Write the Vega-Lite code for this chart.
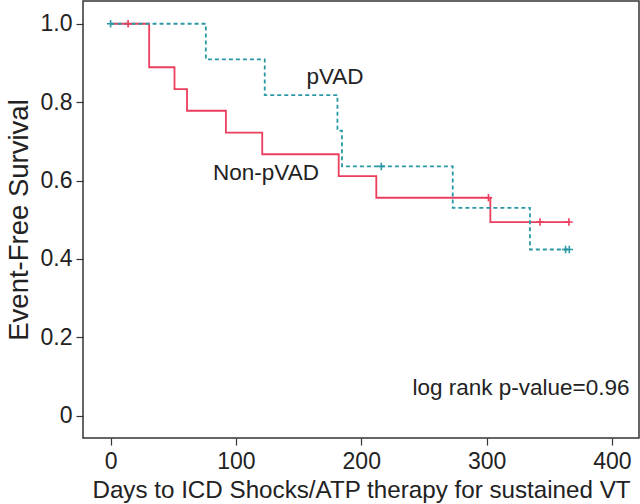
{
  "$schema": "https://vega.github.io/schema/vega-lite/v6.json",
  "width": 556,
  "height": 437,
  "autosize": "none",
  "padding": {"left": 83, "top": 1, "right": 1, "bottom": 66},
  "background": "white",
  "config": {
    "view": {"stroke": "#333333", "strokeWidth": 1.5},
    "font": "Liberation Sans",
    "axis": {
      "domain": false,
      "grid": false,
      "tickColor": "#333333",
      "tickWidth": 1.2,
      "tickSize": 7,
      "labelFont": "Liberation Sans",
      "labelFontSize": 23,
      "labelColor": "#222222",
      "titleFont": "Liberation Sans",
      "titleFontWeight": "normal",
      "titleColor": "#222222"
    }
  },
  "datasets": {
    "curves": [
      {"group": "Non-pVAD", "day": 0, "surv": 1.0},
      {"group": "Non-pVAD", "day": 30.8, "surv": 0.889},
      {"group": "Non-pVAD", "day": 51, "surv": 0.833},
      {"group": "Non-pVAD", "day": 61, "surv": 0.778},
      {"group": "Non-pVAD", "day": 92, "surv": 0.722},
      {"group": "Non-pVAD", "day": 121, "surv": 0.667},
      {"group": "Non-pVAD", "day": 182, "surv": 0.611},
      {"group": "Non-pVAD", "day": 212, "surv": 0.556},
      {"group": "Non-pVAD", "day": 303, "surv": 0.494},
      {"group": "Non-pVAD", "day": 366, "surv": 0.494},
      {"group": "pVAD", "day": 0, "surv": 1.0},
      {"group": "pVAD", "day": 76, "surv": 0.909},
      {"group": "pVAD", "day": 123, "surv": 0.818},
      {"group": "pVAD", "day": 181, "surv": 0.727},
      {"group": "pVAD", "day": 184.6, "surv": 0.636},
      {"group": "pVAD", "day": 273, "surv": 0.530},
      {"group": "pVAD", "day": 334.6, "surv": 0.424},
      {"group": "pVAD", "day": 366, "surv": 0.424}
    ],
    "censor": [
      {"group": "Non-pVAD", "day": 14, "surv": 1.0},
      {"group": "Non-pVAD", "day": 301.5, "surv": 0.556},
      {"group": "Non-pVAD", "day": 342.6, "surv": 0.494},
      {"group": "Non-pVAD", "day": 365.7, "surv": 0.494},
      {"group": "pVAD", "day": 0, "surv": 1.0},
      {"group": "pVAD", "day": 216, "surv": 0.636},
      {"group": "pVAD", "day": 363, "surv": 0.424},
      {"group": "pVAD", "day": 366, "surv": 0.424}
    ],
    "notes": [
      {"label": "pVAD", "day": 179, "surv": 0.864, "anchor": "center"},
      {"label": "Non-pVAD", "day": 124, "surv": 0.62, "anchor": "center"},
      {"label": "log rank p-value=0.96", "day": 414, "surv": 0.07, "anchor": "right"}
    ]
  },
  "layer": [
    {
      "data": {"name": "curves"},
      "mark": {"type": "line", "interpolate": "step-after", "strokeWidth": 1.8},
      "encoding": {
        "x": {
          "field": "day", "type": "quantitative",
          "scale": {"domain": [-22, 421.6], "nice": false, "zero": false},
          "axis": {"values": [0, 100, 200, 300, 400], "title": "Days to ICD Shocks/ATP therapy for sustained VT", "titleFontSize": 24.2, "labelPadding": 5, "titlePadding": 5}
        },
        "y": {
          "field": "surv", "type": "quantitative",
          "scale": {"domain": [-0.057, 1.058], "nice": false, "zero": false},
          "axis": {"values": [0, 0.2, 0.4, 0.6, 0.8, 1.0], "labelExpr": "datum.value === 0 ? '0' : format(datum.value, '.1f')", "title": "Event-Free Survival", "titleFontSize": 27.5, "labelPadding": 4, "titlePadding": 7}
        },
        "color": {
          "field": "group", "type": "nominal",
          "scale": {"domain": ["Non-pVAD", "pVAD"], "range": ["#eb3d5c", "#2a98a5"]},
          "legend": null
        },
        "strokeDash": {
          "field": "group", "type": "nominal",
          "scale": {"domain": ["Non-pVAD", "pVAD"], "range": [[1, 0], [4, 3]]},
          "legend": null
        }
      }
    },
    {
      "data": {"name": "censor"},
      "mark": {"type": "point", "shape": "M-1,0L1,0M0,-1L0,1", "filled": false, "size": 56, "strokeWidth": 1.6, "opacity": 1},
      "encoding": {
        "x": {"field": "day", "type": "quantitative"},
        "y": {"field": "surv", "type": "quantitative"},
        "color": {"field": "group", "type": "nominal", "legend": null}
      }
    },
    {
      "data": {"name": "notes"},
      "transform": [{"filter": "datum.anchor === 'center'"}],
      "mark": {"type": "text", "fontSize": 22.5, "color": "#222222", "align": "center", "baseline": "middle"},
      "encoding": {
        "x": {"field": "day", "type": "quantitative"},
        "y": {"field": "surv", "type": "quantitative"},
        "text": {"field": "label"}
      }
    },
    {
      "data": {"name": "notes"},
      "transform": [{"filter": "datum.anchor === 'right'"}],
      "mark": {"type": "text", "fontSize": 22.5, "color": "#222222", "align": "right", "baseline": "middle"},
      "encoding": {
        "x": {"field": "day", "type": "quantitative"},
        "y": {"field": "surv", "type": "quantitative"},
        "text": {"field": "label"}
      }
    }
  ]
}
